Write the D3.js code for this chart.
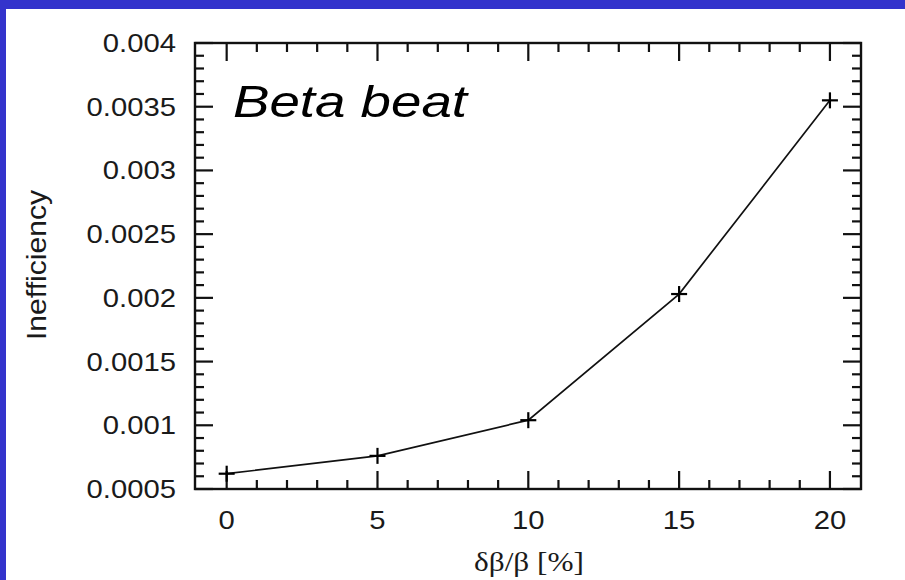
<!DOCTYPE html>
<html><head><meta charset="utf-8">
<script src="https://cdn.jsdelivr.net/npm/d3@7"></script>
<style>body{margin:0;background:#fff}svg{display:block}</style>
</head><body>
<svg id="c" width="905" height="580"></svg>
<script>
const xValues = [0, 5, 10, 15, 20];
const yValues = [0.00062, 0.00076, 0.00104, 0.00203, 0.00355];
const xTickValues = [0, 5, 10, 15, 20];
const xTickLabels = ["0", "5", "10", "15", "20"];
const yTickValues = [0.0005, 0.001, 0.0015, 0.002, 0.0025, 0.003, 0.0035, 0.004];
const yTickLabels = ["0.0005", "0.001", "0.0015", "0.002", "0.0025", "0.003", "0.0035", "0.004"];
const xLabel = "δβ/β [%]";
const yLabel = "Inefficiency";
const titleText = "Beta beat";

const svg = d3.select("#c");
const W = 905, H = 580;
svg.append("rect").attr("width", W).attr("height", H).attr("fill", "#fff");
svg.append("rect").attr("x", 0).attr("y", 0).attr("width", W).attr("height", 9).attr("fill", "#3333cc");
svg.append("rect").attr("x", 0).attr("y", 0).attr("width", 6).attr("height", H).attr("fill", "#3333cc");

const L = 195, R = 861, T = 43, B = 489;
const x = d3.scaleLinear().domain([-1.05, 21.03]).range([L, R]);
const y = d3.scaleLinear().domain([0.0005, 0.004]).range([B, T]);
const stretch = 1.17;
const font = "'Liberation Sans', Arial, sans-serif";

const xMinor = d3.range(-1, 22).filter(v => v % 5 !== 0 && x(v) > L + 2 && x(v) < R - 2);
const yMinor = d3.range(5, 41).map(v => v / 10000).filter(v => Math.round(v * 10000) % 5 !== 0);
const MAJ = 18, MIN = 9;
const g = svg.append("g").attr("stroke", "#111").attr("stroke-width", 2.2);
function tick(x1, y1, x2, y2) { g.append("line").attr("x1", x1).attr("y1", y1).attr("x2", x2).attr("y2", y2); }
xTickValues.forEach(v => { tick(x(v), B, x(v), B - MAJ); tick(x(v), T, x(v), T + MAJ); });
xMinor.forEach(v => { tick(x(v), B, x(v), B - MIN); tick(x(v), T, x(v), T + MIN); });
yTickValues.forEach(v => { tick(L, y(v), L + MAJ, y(v)); tick(R, y(v), R - MAJ, y(v)); });
yMinor.forEach(v => { tick(L, y(v), L + MIN, y(v)); tick(R, y(v), R - MIN, y(v)); });
svg.append("rect").attr("x", L).attr("y", T).attr("width", R - L).attr("height", B - T)
  .attr("fill", "none").attr("stroke", "#111").attr("stroke-width", 2.4);

function stretchText(t) {
  t.each(function () {
    const len = this.getComputedTextLength();
    d3.select(this).attr("textLength", len * stretch).attr("lengthAdjust", "spacingAndGlyphs");
  });
}

svg.append("g").selectAll("text").data(yTickValues).join("text")
  .attr("x", 176).attr("y", d => y(d) + 9).attr("text-anchor", "end")
  .attr("font-family", font).attr("font-size", 25).attr("fill", "#1a1a1a")
  .text((d, i) => yTickLabels[i]).call(stretchText);
svg.append("g").selectAll("text").data(xTickValues).join("text")
  .attr("x", d => x(d)).attr("y", 529).attr("text-anchor", "middle")
  .attr("font-family", font).attr("font-size", 25).attr("fill", "#1a1a1a")
  .text((d, i) => xTickLabels[i]).call(stretchText);

svg.append("text").attr("x", 529).attr("y", 571).attr("text-anchor", "middle")
  .attr("font-family", "'Liberation Serif', 'Times New Roman', serif").attr("font-size", 28).attr("fill", "#1a1a1a")
  .attr("textLength", 110).attr("lengthAdjust", "spacingAndGlyphs").text(xLabel);
svg.append("text").attr("transform", "translate(46,265) rotate(-90)").attr("text-anchor", "middle")
  .attr("font-family", font).attr("font-size", 27).attr("fill", "#1a1a1a")
  .attr("textLength", 150).attr("lengthAdjust", "spacingAndGlyphs").text(yLabel);

svg.append("text").attr("x", 233).attr("y", 117)
  .attr("font-family", font).attr("font-style", "italic").attr("font-size", 45).attr("fill", "#000")
  .attr("textLength", 234).attr("lengthAdjust", "spacingAndGlyphs").text(titleText);

const data = xValues.map((v, i) => [v, yValues[i]]);
svg.append("path").datum(data)
  .attr("d", d3.line().x(d => x(d[0])).y(d => y(d[1])))
  .attr("fill", "none").attr("stroke", "#111").attr("stroke-width", 1.7);
const m = svg.append("g").attr("stroke", "#000").attr("stroke-width", 2.2);
data.forEach(d => {
  const cx = x(d[0]), cy = y(d[1]);
  m.append("line").attr("x1", cx - 8).attr("x2", cx + 8).attr("y1", cy).attr("y2", cy);
  m.append("line").attr("x1", cx).attr("x2", cx).attr("y1", cy - 8).attr("y2", cy + 8);
});
</script>
</body></html>
